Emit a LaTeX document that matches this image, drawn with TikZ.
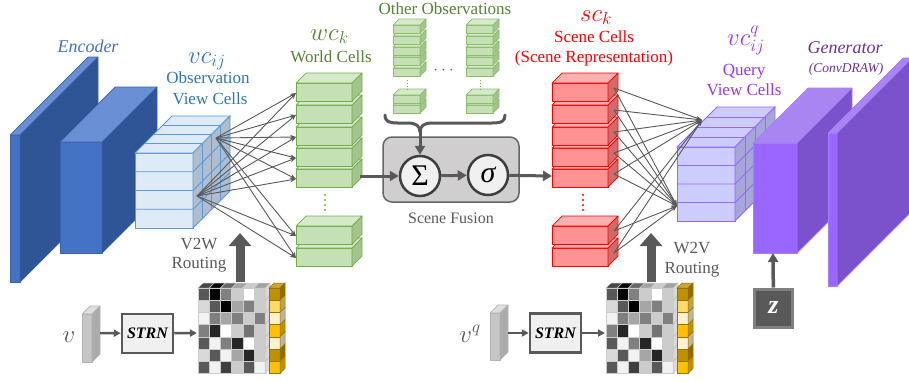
\documentclass[tikz,border=0pt]{standalone}
\usepackage{fontspec}
\setmainfont{Liberation Serif}
\usepackage{amsmath}
\usetikzlibrary{
    arrows.meta,
    positioning,
    calc
}
\definecolor{encFront}{HTML}{4472C4}
\definecolor{encTop}  {HTML}{6A8FD4}
\definecolor{encSide} {HTML}{2F5597}
\definecolor{encEdge} {HTML}{3A62AE}
\definecolor{obsFill} {HTML}{DEEBF7}
\definecolor{obsSide} {HTML}{AFBDCE}
\definecolor{obsEdge} {HTML}{5B9BD5}
\definecolor{obsText} {HTML}{2E75B6}
\definecolor{wcFill}  {HTML}{C5E0B4}
\definecolor{wcTop}   {HTML}{D5EACA}
\definecolor{wcSide}  {HTML}{A3C48F}
\definecolor{wcEdge}  {HTML}{70AD47}
\definecolor{wcText}  {HTML}{548235}
\definecolor{scFill}  {HTML}{FF9393}
\definecolor{scTop}   {HTML}{FFB0B0}
\definecolor{scSide}  {HTML}{D26A6A}
\definecolor{scEdge}  {HTML}{FF0000}
\definecolor{qFill}   {HTML}{CCCCFF}
\definecolor{qSide}   {HTML}{A6A6D8}
\definecolor{qEdge}   {HTML}{9966FF}
\definecolor{qText}   {HTML}{9933FF}
\definecolor{genFront}{HTML}{9966FF}
\definecolor{genTop}  {HTML}{A985F2}
\definecolor{genSide} {HTML}{7B52CC}
\definecolor{genEdge} {HTML}{A47CFF}
\definecolor{genText} {HTML}{7030A0}
\definecolor{wire}    {HTML}{595959}
\definecolor{fuseFill}{HTML}{D0CECE}
\definecolor{ylA}{HTML}{BF9000}
\definecolor{ylB}{HTML}{FFD966}
\definecolor{ylC}{HTML}{FFF2CC}
\definecolor{ylD}{HTML}{FFC000}
\tikzset{
  lbl/.style      = {inner sep=0pt, anchor=base, font=\fontsize{17}{20}\selectfont},
  mlbl/.style     = {inner sep=0pt, anchor=base west, font=\fontsize{24}{26}\selectfont},
  route/.style    = {-{Stealth[length=6pt,width=4.5pt]}, wire, line width=0.9pt},
  flow/.style     = {-{Triangle[length=9pt,width=10pt]}, wire, line width=3pt},
  feed/.style     = {-{Triangle[length=7pt,width=7pt]}, wire, line width=2.5pt},
  bigup/.style    = {-{Triangle[length=13pt,width=22pt]}, wire, line width=9pt},
  fusebox/.style  = {draw=gray!80!black, line width=1.5pt, fill=fuseFill,
                     rounded corners=9pt, minimum width=136pt, minimum height=65pt},
  fusecirc/.style = {circle, draw=wire!70!black, line width=2.5pt, fill=white!94!black,
                     minimum size=40pt, inner sep=0pt, font=\fontsize{30}{32}\selectfont},
  strnbox/.style  = {draw=wire, line width=2.5pt, fill=white!94!black,
                     minimum width=51pt, minimum height=39pt, inner sep=0pt,
                     font=\fontsize{16}{18}\selectfont\bfseries\itshape},
  zbox/.style     = {draw=gray, line width=3pt, fill=wire, text=white,
                     minimum size=38pt, inner sep=0pt,
                     font=\fontsize{26}{28}\selectfont\bfseries\itshape}
}
% slab: x, y (front top-left), width, height, depth, front, top, side, edge
\newcommand{\slab}[9]{%
  \filldraw[fill=#6, draw=#9, line width=0.7pt, line join=round]
    (#1,#2) rectangle ({#1+#3},{#2+#4});
  \filldraw[fill=#7, draw=#9, line width=0.7pt, line join=round]
    (#1,#2) -- ({#1+#3},#2) -- ({#1+#3+#5},{#2-#5}) -- ({#1+#5},{#2-#5}) -- cycle;
  \filldraw[fill=#8, draw=#9, line width=0.7pt, line join=round]
    ({#1+#3},#2) -- ({#1+#3+#5},{#2-#5}) -- ({#1+#3+#5},{#2+#4-#5})
    -- ({#1+#3},{#2+#4}) -- cycle;
}
% view cells: x, y, width, height, depth, fill, side, edge
\newcommand{\cellcube}[8]{%
  \filldraw[fill=#6, draw=#8, line width=0.8pt] (#1,#2) rectangle ({#1+#3},{#2+#4});
  \filldraw[fill=#6, draw=#8, line width=0.8pt]
    (#1,#2) -- ({#1+#3},#2) -- ({#1+#3+#5},{#2-#5}) -- ({#1+#5},{#2-#5}) -- cycle;
  \filldraw[fill=#7, draw=#8, line width=0.8pt]
    ({#1+#3},#2) -- ({#1+#3+#5},{#2-#5}) -- ({#1+#3+#5},{#2+#4-#5})
    -- ({#1+#3},{#2+#4}) -- cycle;
  \foreach \k in {1,2,3} {
    \draw[#8, line width=0.8pt] ({#1+\k*#5/4},{#2-\k*#5/4}) -- ++(#3,0) -- ++(0,#4);
    \draw[#8, line width=0.8pt] (#1,{#2+\k*#4/4}) -- ++(#3,0) -- ++(#5,-#5);
  }
}
% routing matrix with its yellow column: x, y (front top-left)
\newcommand{\routemat}[2]{%
  \foreach \v [count=\c] in {65,100,50,20,0,20}
    \filldraw[fill=black!\v!white!80!black, draw=gray!40, line width=0.5pt]
      ({#1+(\c-1)*11.2},#2) -- ++(11.2,0) -- ++(5,-5) -- ++(-11.2,0) -- cycle;
  \foreach \row [count=\r] in {{65,100,50,20,0,20},{15,65,100,35,50,20},
                               {5,50,35,50,20,50},{50,85,0,20,55,20},
                               {65,5,50,85,0,20},{15,65,5,35,85,20},
                               {65,5,75,20,65,5}} {
    \foreach \v [count=\c] in \row
      \filldraw[fill=black!\v, draw=gray!40, line width=0.5pt]
        ({#1+(\c-1)*11.2},{#2+(\r-1)*12.2}) rectangle ++(11.2,12.2);
    \filldraw[fill=gray!30, draw=gray!50, line width=0.5pt]
      ({#1+67.2},{#2+(\r-1)*12.2}) -- ++(5,-5) -- ++(0,12.2) -- ++(-5,5) -- cycle;
  }
  \filldraw[fill=ylA!80!white, draw=ylA!80!black, line width=0.5pt]
    ({#1+71},#2) -- ++(11,0) -- ++(5,-5) -- ++(-11,0) -- cycle;
  \foreach \yc [count=\r] in {ylA,ylB,ylC,ylD,ylC,ylA,ylD} {
    \filldraw[fill=\yc, draw=ylA!80!black, line width=0.5pt]
      ({#1+71},{#2+(\r-1)*12.2}) rectangle ++(11,12.2);
    \filldraw[fill=\yc!75!black, draw=ylA!80!black, line width=0.5pt]
      ({#1+82},{#2+(\r-1)*12.2}) -- ++(5,-5) -- ++(0,12.2) -- ++(-5,5) -- cycle;
  }
}

\begin{document}
\begin{tikzpicture}[x=1pt, y=-1pt]
  \useasboundingbox (0,0) rectangle (909,381);

  %% -- Encoder ------------------------------------------------
  \slab{10}{135}{10}{147}{78}{encFront}{encTop}{encSide}{encEdge}
  \slab{60}{142}{42}{111}{55}{encFront}{encTop}{encSide}{encEdge}
  \node[lbl, font=\fontsize{18}{20}\selectfont\itshape, text=encFront] (enclbl) at (88,52) {Encoder};

  %% -- Observation view cells ---------------------------------
  \cellcube{135}{153}{58}{75}{37}{obsFill}{obsSide}{obsEdge}
  \node[mlbl, text=obsText] (vclbl) at (188,63) {$vc_{ij}$};
  \node[lbl, text=obsText] (obslbl) at (208,83) {Observation};
  \node[lbl, text=obsText] (viewlbl) at (210,104) {View Cells};

  %% -- World cells --------------------------------------------
  \foreach \t in {248,226,169,148,127,105,83}
    {\slab{296}{\t}{56}{18}{10}{wcFill}{wcTop}{wcSide}{wcEdge}}
  \foreach \d in {195,200,205,210} \fill[wcEdge] (325,\d) circle (1.2);
  \node[mlbl, text=wcText] (wclbl) at (310,40) {$wc_k$};
  \node[lbl, text=wcText] (worldlbl) at (331,62) {World Cells};

  % V2W routing arrows
  \coordinate (obsA) at (216,138);
  \coordinate (obsB) at (197,196);
  \foreach \t [count=\i] in {83,105,127,148,169,226,248} {
    \coordinate (wc\i) at (296,{\t+10});
    \draw[route] (obsA) -- (wc\i);
    \draw[route] (obsB) -- (wc\i);
  }

  %% -- Other observations -------------------------------------
  \foreach \xx in {393,466} {
    \foreach \t in {105,95,68,57,47,36,25}
      {\slab{\xx}{\t}{27}{8}{6}{wcFill}{wcTop}{wcSide}{wcEdge!80!white}}
    \draw[wcEdge, line width=1pt, dash pattern=on 1.2pt off 1.8pt] ({\xx+14},80) -- ({\xx+14},90);
  }
  \node[lbl, text=wcText] (otherlbl) at (445,14) {Other Observations};
  \node[lbl, text=wcText] (otherdots) at (445,74) {$\cdots$};

  %% -- Scene fusion -------------------------------------------
  \node[fusebox] (fusion) at (451,169.5) {};
  \node[fusecirc] (sum) at (420,176) {Σ};
  \node[fusecirc] (sig) at (488,175) {\itshape σ};
  \node[lbl, font=\fontsize{16}{18}\selectfont, text=wire] (fuselbl) at (451,223) {Scene Fusion};

  \draw[wire, line width=3pt, line cap=round, line join=round]
    (385,115) .. controls (385,122) and (390,123) .. (398,123) -- (408,123)
    .. controls (416,123) and (420,126) .. (420,132)
    .. controls (420,126) and (424,123) .. (432,123) -- (492,123)
    .. controls (502,123) and (505,121) .. (505,115);
  \coordinate (braceTip) at (420,131);
  \draw[flow] (braceTip) -- (sum);

  \coordinate (wcOut) at (360,176);
  \coordinate (scIn) at (552,176);
  \draw[flow] (wcOut) -- (sum);
  \draw[flow] (sum) -- (sig);
  \draw[flow] (sig) -- (scIn);

  %% -- Scene cells --------------------------------------------
  \foreach \t in {248,226,169,148,127,105,83}
    {\slab{552}{\t}{56}{18}{10}{scFill}{scTop}{scSide}{scEdge}}
  \foreach \d in {195,200,205,210} \fill[scEdge] (583,\d) circle (1.2);
  \node[mlbl, text=scEdge] (sclbl) at (580,21) {$sc_k$};
  \node[lbl, text=scEdge] (scenelbl) at (594,42) {Scene Cells};
  \node[lbl, text=scEdge] (reprlbl) at (594,62) {(Scene Representation)};

  %% -- Query view cells ---------------------------------------
  \cellcube{677}{147}{58}{74}{40}{qFill}{qSide}{qEdge}
  \node[mlbl, text=qText] (vqlbl) at (727,45) {$vc^{q}_{ij}$};
  \node[lbl, text=qText] (querylbl) at (744,75) {Query};
  \node[lbl, text=qText] (qviewlbl) at (744,95) {View Cells};

  % W2V routing arrows
  \coordinate (qA) at (702,120);
  \coordinate (qB) at (677,206);
  \foreach \t [count=\i] in {83,105,127,148,169,226,248} {
    \coordinate (sc\i) at (614,{\t+5});
    \draw[route] (sc\i) -- (qA);
    \draw[route] (sc\i) -- (qB);
  }

  %% -- Generator ----------------------------------------------
  \slab{753}{143}{44}{110}{55}{genFront}{genTop}{genSide}{genEdge}
  \slab{828}{133}{9}{153}{75}{genFront}{genTop}{genSide}{genEdge}
  \node[lbl, font=\fontsize{18}{20}\selectfont\itshape, text=genText] (genlbl) at (845,53) {Generator};
  \node[lbl, font=\fontsize{13.5}{15}\selectfont\itshape, text=genText] (convlbl) at (846,72) {(ConvDRAW)};

  \node[zbox] (zed) at (773.5,308) {z};
  \coordinate (genIn) at (773,253);
  \draw[flow, line width=3.5pt] (zed) -- (genIn);

  %% -- Routing inputs -----------------------------------------
  % observation side
  \slab{82}{314}{10}{48}{8}{gray!45}{gray!25}{gray!65}{gray!60}
  \node[lbl, font=\fontsize{24}{26}\selectfont, text=wire] (vlbl) at (69,342) {$v$};
  \node[strnbox] (strn1) at (147.5,333.5) {STRN};
  \routemat{198}{288}
  \coordinate (vOut) at (100,333);
  \coordinate (mat1In) at (197,333);
  \draw[feed] (vOut) -- (strn1);
  \draw[feed] (strn1) -- (mat1In);
  \coordinate (v2wBot) at (240,282);
  \coordinate (v2wTop) at (240,233);
  \draw[bigup] (v2wBot) -- (v2wTop);
  \node[lbl, text=wire] (v2wlbl) at (199,249) {V2W};
  \node[lbl, text=wire] (v2wrout) at (199,268) {Routing};

  % query side
  \slab{490}{313}{10}{47}{8}{gray!45}{gray!25}{gray!65}{gray!60}
  \node[lbl, font=\fontsize{24}{26}\selectfont, text=wire] (vqinlbl) at (470,342) {$v^{q}$};
  \node[strnbox] (strn2) at (555.5,333) {STRN};
  \routemat{606}{288}
  \coordinate (vqOut) at (508,333);
  \coordinate (mat2In) at (605,333);
  \draw[feed] (vqOut) -- (strn2);
  \draw[feed] (strn2) -- (mat2In);
  \coordinate (w2vBot) at (651,282);
  \coordinate (w2vTop) at (651,233);
  \draw[bigup] (w2vBot) -- (w2vTop);
  \node[lbl, text=wire] (w2vlbl) at (692,253) {W2V};
  \node[lbl, text=wire] (w2vrout) at (692,273) {Routing};

\end{tikzpicture}
\end{document}
